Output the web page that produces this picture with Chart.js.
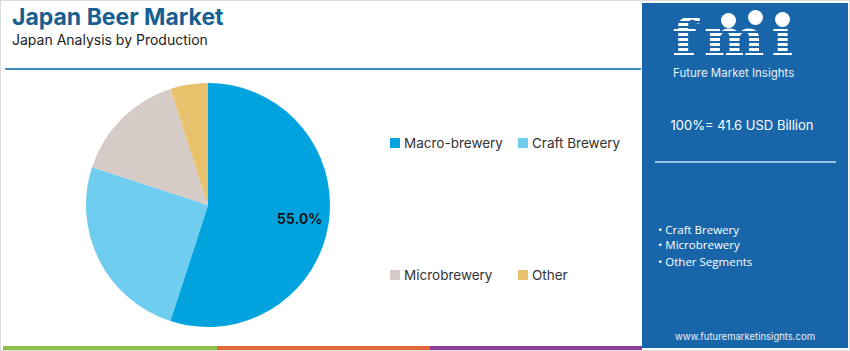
<!DOCTYPE html>
<html>
<head>
<meta charset="utf-8">
<script src="https://cdn.jsdelivr.net/npm/chart.js@4.4.1/dist/chart.umd.min.js"></script>
<style>
    body { margin: 0; width: 850px; height: 351px; overflow: hidden; background: #fff; font-family: Inter, "Open Sans", sans-serif; }
    .frame { position: absolute; left: 0; top: 0; width: 848px; height: 349px; border: 1px solid #dcdcdc; }
    .title { position: absolute; left: 12px; top: 3px; font-size: 23px; font-weight: 700; color: #175f91; }
    .subtitle { position: absolute; left: 12px; top: 31px; font-size: 14px; color: #222; }
    .rule { position: absolute; left: 5px; top: 68px; width: 636px; height: 2px; background: #3a8cc2; }
    .pie-wrap { position: absolute; left: 86px; top: 83px; width: 244px; height: 244px; }
    .legend-item { position: absolute; font-size: 13.5px; color: #333; display: flex; align-items: center; white-space: nowrap; }
    .legend-item span.box { width: 10px; height: 10px; margin-right: 4px; display: inline-block; }
    .panel { position: absolute; left: 642px; top: 3px; width: 206px; height: 345px; background: #1866a9; color: #fff; }
    .logo { position: absolute; left: 30px; top: 10px; font-family: "DejaVu Serif", serif; font-weight: 700; font-size: 50px; line-height: 50px; letter-spacing: 6px;
        transform: scaleX(1.15); transform-origin: left center;
        background: repeating-linear-gradient(to bottom, #fff 0 3px, #1866a9 3px 5px); -webkit-background-clip: text; background-clip: text; color: transparent; }
    .dot { position: absolute; width: 15px; height: 15px; border-radius: 50%; background: #fff; }
    .fmi-name { position: absolute; left: 31px; top: 63px; font-size: 11.5px; color: #e8f0f8; }
    .total { position: absolute; left: 0; width: 200px; top: 114px; text-align: center; font-size: 13px; }
    .panel-rule { position: absolute; left: 13px; top: 158px; width: 181px; height: 2px; background: #9ec3e2; }
    .bullets { position: absolute; left: 16px; top: 219px; font-family: "Open Sans", sans-serif; font-size: 11.5px; line-height: 15px; }
    .url { position: absolute; left: 0; width: 206px; top: 328px; text-align: center; font-size: 9.5px; color: #e8f0f8; }
    .strip { position: absolute; top: 346px; height: 4px; }
</style>
</head>
<body>
<div class="frame"></div>
<div class="title">Japan Beer Market</div>
<div class="subtitle">Japan Analysis by Production</div>
<div class="rule"></div>

<div class="pie-wrap"><canvas id="pie"></canvas></div>
<div id="legend"></div>

<div class="panel">
    <div class="logo">fmi</div>
    <div class="dot" style="left:79px; top:10px;"></div>
    <div class="dot" style="left:106px; top:7px;"></div>
    <div class="dot" style="left:133px; top:9px;"></div>
    <div class="fmi-name">Future Market Insights</div>
    <div class="total">100%= 41.6 USD Billion</div>
    <div class="panel-rule"></div>
    <div class="bullets">
        <div>&bull; Craft Brewery</div>
        <div>&bull; Microbrewery</div>
        <div style="margin-top:2px">&bull; Other Segments</div>
    </div>
    <div class="url">www.futuremarketinsights.com</div>
</div>

<div class="strip" style="left:3px; width:214px; background:#8dc04b;"></div>
<div class="strip" style="left:217px; width:213px; background:#e4673a;"></div>
<div class="strip" style="left:430px; width:212px; background:#8e3f96;"></div>

<script>
const categories = ['Macro-brewery', 'Craft Brewery', 'Microbrewery', 'Other'];
const shares = [55, 25, 15, 5];
const colors = ['#00a3dd', '#6fcdf0', '#d6cbc6', '#e9c26d'];
const labelled = ['55.0%', '', '', ''];

// legend spots
const legendPos = [[390, 135], [518, 135], [390, 267], [518, 267]];

const legend = document.getElementById('legend');
categories.forEach((name, i) => {
    const item = document.createElement('div');
    item.className = 'legend-item';
    item.style.left = legendPos[i][0] + 'px';
    item.style.top = legendPos[i][1] + 'px';
    item.innerHTML = `<span class="box" style="background:${colors[i]}"></span>${name}`;
    legend.appendChild(item);
});

const sliceLabels = {
    id: 'sliceLabels',
    afterDatasetsDraw(chart) {
        const ctx = chart.ctx;
        const meta = chart.getDatasetMeta(0);
        meta.data.forEach((arc, i) => {
            if (!labelled[i]) return;
            const p = arc.getProps(['x', 'y', 'startAngle', 'endAngle', 'outerRadius']);
            const mid = (p.startAngle + p.endAngle) / 2;
            const r = p.outerRadius * 0.76;
            ctx.save();
            ctx.font = 'bold 14px Inter, sans-serif';
            ctx.fillStyle = '#111';
            ctx.textAlign = 'center';
            ctx.textBaseline = 'middle';
            ctx.fillText(labelled[i], p.x + Math.cos(mid) * r, p.y + Math.sin(mid) * r);
            ctx.restore();
        });
    }
};

new Chart(document.getElementById('pie').getContext('2d'), {
    type: 'pie',
    data: {
        labels: categories,
        datasets: [{
            data: shares,
            backgroundColor: colors,
            borderWidth: 0,
        }]
    },
    options: {
        responsive: true,
        maintainAspectRatio: false,
        animation: false,
        layout: { padding: 0 },
        plugins: {
            legend: { display: false },
            tooltip: { enabled: false },
        }
    },
    plugins: [sliceLabels]
});
</script>
</body>
</html>
